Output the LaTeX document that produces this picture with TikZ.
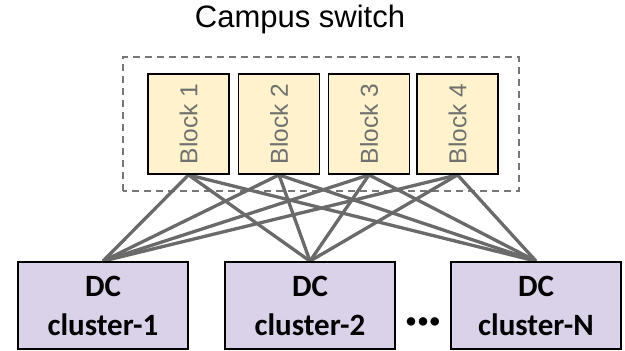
\documentclass[tikz,border=0pt]{standalone}
\usepackage{fontspec}
\setmainfont{Liberation Sans}
\newfontfamily\calib{Carlito}
\usetikzlibrary{backgrounds}
\definecolor{blockfill}{HTML}{FFF2CC}
\definecolor{clusterfill}{HTML}{D9D2E9}
\definecolor{linkgray}{HTML}{6A6A6A}
\definecolor{textgray}{HTML}{707070}
\definecolor{dashgray}{HTML}{777777}
\begin{document}
\begin{tikzpicture}[x=1pt,y=1pt,
  blockbox/.style={draw=black, line width=1.8pt, fill=blockfill, rotate=90,
    minimum width=100pt, minimum height=81pt, inner sep=0pt,
    font=\fontsize{24.5}{28}\selectfont, text=textgray},
  clusterbox/.style={draw=black, line width=1.8pt, fill=clusterfill,
    minimum width=170pt, minimum height=87pt, inner sep=0pt, align=center,
    font=\calib\bfseries\fontsize{31}{39}\selectfont},
  link/.style={draw=linkgray, line width=3.3pt},
  group/.style={draw=dashgray, line width=1.4pt, dash pattern=on 7pt off 5pt}]
\useasboundingbox (0,0) rectangle (625,351);
\node[anchor=base, font=\fontsize{31}{36}\selectfont] (title) at (300,323) {Campus switch};
\coordinate (gsw) at (123,160);
\coordinate (gne) at (519,294);
\node[clusterbox] (c1) at (103,45.5) {DC\\cluster-1};
\node[clusterbox] (c2) at (310,45.5) {DC\\cluster-2};
\node[clusterbox] (cn) at (536,45.5) {DC\\cluster-N};
\node[anchor=base, inner sep=0pt, font=\calib\bfseries\fontsize{20}{24}\selectfont] (dots) at (423,23) {•\hspace{2pt}•\hspace{2pt}•};
\node[blockbox] (b1) at (188.5,227) {Block 1};
\node[blockbox] (b2) at (279,227) {Block 2};
\node[blockbox] (b3) at (369,227) {Block 3};
\node[blockbox] (b4) at (457.5,227) {Block 4};
\begin{scope}[on background layer]
\draw[group] (gsw) rectangle (gne);
\foreach \b in {b1,b2,b3,b4}{
  \foreach \c in {c1,c2,cn}{
    \draw[link] (\b.west) -- (\c.north);
  }
}
\end{scope}
\end{tikzpicture}
\end{document}
